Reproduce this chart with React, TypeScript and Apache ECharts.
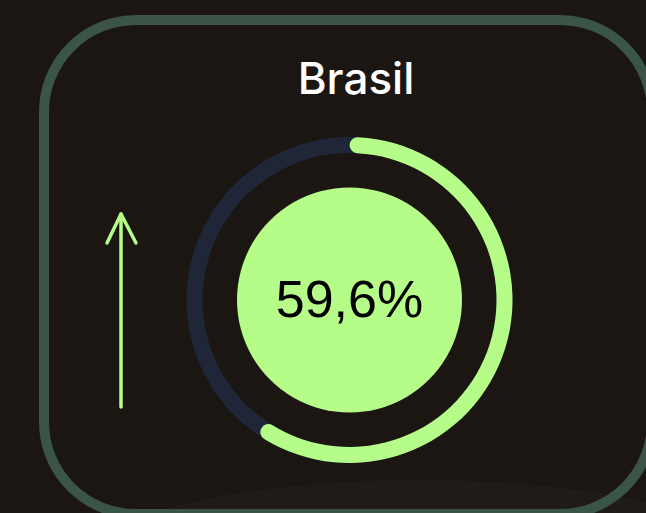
import React, { useEffect, useRef } from "react";
import * as echarts from "echarts";

const titleText = "Brasil";
const gaugeValue = [59.6];
const gaugeMin = 0;
const gaugeMax = 100;

const GREEN = "#b5fd88";
const TRACK = "#1f2638";
const BG = "#1c1612";
const BORDER = "#3a5445";

// the round caps sit inside the arc: offset start by the cap's angular size
const CAP_DEG = 3;

export default function App() {
  const ref = useRef<HTMLDivElement>(null);
  useEffect(() => {
    document.body.style.margin = "0";
    const chart = echarts.init(ref.current!, null, { renderer: "svg" });
    const common = {
      type: "gauge",
      center: [349.5, 300],
      radius: 163,
      min: gaugeMin,
      max: gaugeMax,
      clockwise: true,
      pointer: { show: false },
      axisTick: { show: false },
      splitLine: { show: false },
      axisLabel: { show: false },
      anchor: { show: false },
      title: { show: false },
    };
    chart.setOption({
      animation: false,
      backgroundColor: BG,
      graphic: [
        {
          type: "ellipse",
          z: 0,
          shape: { cx: 420, cy: 560, rx: 330, ry: 80 },
          style: { fill: "rgba(255,255,255,0.025)" },
        },
        {
          type: "rect",
          z: 1,
          shape: { x: 44, y: 20, width: 608, height: 494, r: 92 },
          style: { fill: "transparent", stroke: BORDER, lineWidth: 10 },
        },
        {
          type: "text",
          z: 3,
          x: 356,
          y: 78,
          style: {
            text: titleText,
            fill: "#ffffff",
            font: "500 44px Inter, 'Noto Sans', sans-serif",
            textAlign: "center",
            textVerticalAlign: "middle",
          },
        },
        {
          type: "line",
          z: 3,
          shape: { x1: 121, y1: 214, x2: 121, y2: 407 },
          style: { stroke: GREEN, lineWidth: 3.5, lineCap: "round" },
        },
        {
          type: "polyline",
          z: 3,
          shape: { points: [[107, 243], [121, 214], [136, 243]] },
          style: { stroke: GREEN, lineWidth: 3.5, lineCap: "round", lineJoin: "round", fill: "none" },
        },
        {
          type: "circle",
          z: 1,
          shape: { cx: 349.5, cy: 300, r: 112.5 },
          style: { fill: GREEN },
        },
      ],
      series: [
        {
          ...common,
          z: 2,
          startAngle: 90,
          endAngle: -270,
          axisLine: { lineStyle: { width: 16, color: [[1, TRACK]] } },
          progress: { show: false },
          detail: { show: false },
          data: [{ value: gaugeValue[0] }],
        },
        {
          ...common,
          z: 3,
          startAngle: 90 - CAP_DEG,
          endAngle: 90 - CAP_DEG - (360 - 2 * CAP_DEG / (gaugeValue[0] / gaugeMax)),
          axisLine: { show: false, lineStyle: { width: 16 } },
          progress: { show: true, width: 16, roundCap: true, itemStyle: { color: GREEN } },
          detail: {
            show: true,
            offsetCenter: [0, -1],
            fontSize: 52,
            fontFamily: "'Liberation Sans', Arial, sans-serif",
            fontWeight: "normal",
            color: "#000000",
            formatter: (v: number) => v.toFixed(1).replace(".", ",") + "%",
          },
          data: [{ value: gaugeValue[0] }],
        },
      ],
    });
    return () => chart.dispose();
  }, []);
  return <div ref={ref} style={{ width: 646, height: 513 }} />;
}
